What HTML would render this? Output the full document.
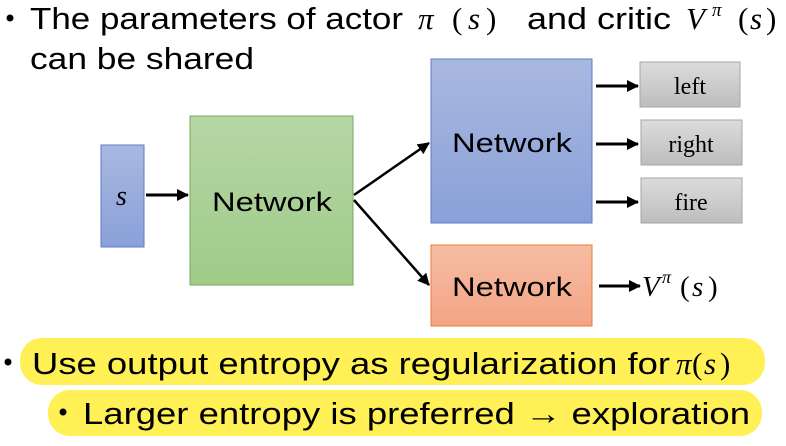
<!DOCTYPE html>
<html><head><meta charset="utf-8"><style>
html,body{margin:0;padding:0;background:#fff;width:786px;height:446px;overflow:hidden}
svg{display:block}
.t{font-family:"Liberation Sans",sans-serif;fill:#000}
.m{font-family:"Liberation Serif",serif;font-style:italic;fill:#000}
.r{font-family:"Liberation Serif",serif;fill:#000}
</style></head><body>
<svg width="786" height="446" viewBox="0 0 786 446">
<defs>
<linearGradient id="gb" x1="0" y1="0" x2="0" y2="1"><stop offset="0" stop-color="#a9b8e0"/><stop offset="1" stop-color="#8aa0d8"/></linearGradient>
<linearGradient id="gg" x1="0" y1="0" x2="0" y2="1"><stop offset="0" stop-color="#b6d6a6"/><stop offset="1" stop-color="#9fcb88"/></linearGradient>
<linearGradient id="go" x1="0" y1="0" x2="0" y2="1"><stop offset="0" stop-color="#f6bda3"/><stop offset="1" stop-color="#f4a486"/></linearGradient>
<linearGradient id="gr" x1="0" y1="0" x2="0" y2="1"><stop offset="0" stop-color="#dcdcdc"/><stop offset="1" stop-color="#bdbdbd"/></linearGradient>
<marker id="ah2" markerWidth="12" markerHeight="12" refX="11" refY="6" orient="auto" markerUnits="userSpaceOnUse"><path d="M0,0 L12,6 L0,12 z" fill="#000"/></marker>
</defs>
<g>
<circle cx="10" cy="18" r="3.5" fill="#000"/>
<text class="t" x="30" y="29" font-size="31" textLength="373" lengthAdjust="spacingAndGlyphs">The parameters of actor</text>
<text class="m" x="418" y="29" font-size="31">π</text><text class="r" x="452" y="29" font-size="31">(</text><text class="m" x="468" y="29" font-size="31">s</text><text class="r" x="486" y="29" font-size="31">)</text>
<text class="t" x="527" y="29" font-size="31" textLength="144" lengthAdjust="spacingAndGlyphs">and critic</text>
<text class="m" x="686" y="29" font-size="31">V</text><text class="m" x="712" y="16" font-size="19">π</text><text class="r" x="738" y="29" font-size="31">(</text><text class="m" x="750" y="29" font-size="31">s</text><text class="r" x="766" y="29" font-size="31">)</text>
<text class="t" x="30" y="69" font-size="31" textLength="224" lengthAdjust="spacingAndGlyphs">can be shared</text>
</g>
<rect x="101" y="145" width="43" height="102" fill="url(#gb)" stroke="#5b7bc8"/>
<text class="m" x="116" y="205" font-size="28">s</text>
<rect x="190" y="116" width="163" height="169" fill="url(#gg)" stroke="#77a860"/>
<text class="t" x="212" y="211" font-size="27" textLength="120" lengthAdjust="spacingAndGlyphs">Network</text>
<rect x="431" y="59" width="161" height="164" fill="url(#gb)" stroke="#5b7bc8"/>
<text class="t" x="452" y="152" font-size="27" textLength="120" lengthAdjust="spacingAndGlyphs">Network</text>
<rect x="431" y="245" width="161" height="81" fill="url(#go)" stroke="#ed7d31"/>
<text class="t" x="452" y="296" font-size="27" textLength="120" lengthAdjust="spacingAndGlyphs">Network</text>
<g>
<rect x="640" y="62" width="100" height="45" fill="url(#gr)" stroke="#a6a6a6"/>
<text class="r" x="690" y="94" font-size="24" text-anchor="middle">left</text>
<rect x="641" y="120" width="101" height="45" fill="url(#gr)" stroke="#a6a6a6"/>
<text class="r" x="691" y="152" font-size="24" text-anchor="middle">right</text>
<rect x="641" y="178" width="101" height="45" fill="url(#gr)" stroke="#a6a6a6"/>
<text class="r" x="691" y="210" font-size="24" text-anchor="middle">fire</text>
</g>
<g stroke="#000" stroke-width="3">
<line x1="146" y1="195" x2="188" y2="195" marker-end="url(#ah2)"/>
<line x1="354" y1="195" x2="429" y2="143" stroke-width="2.5" marker-end="url(#ah2)"/>
<line x1="354" y1="200" x2="429" y2="285" stroke-width="2.5" marker-end="url(#ah2)"/>
<line x1="596" y1="86" x2="638" y2="86" marker-end="url(#ah2)"/>
<line x1="596" y1="144" x2="638" y2="144" marker-end="url(#ah2)"/>
<line x1="596" y1="202" x2="638" y2="202" marker-end="url(#ah2)"/>
<line x1="599" y1="286" x2="640" y2="286" marker-end="url(#ah2)"/>
</g>
<g>
<text class="m" x="642" y="296" font-size="29">V</text><text class="m" x="662" y="283" font-size="18">π</text><text class="r" x="680" y="296" font-size="29">(</text><text class="m" x="692" y="296" font-size="29">s</text><text class="r" x="708" y="296" font-size="29">)</text>
</g>
<g>
<rect x="20" y="338" width="745" height="47" rx="22" fill="#fff056"/>
<circle cx="8" cy="362" r="3.5" fill="#000"/>
<text class="t" x="32" y="374" font-size="31" textLength="638" lengthAdjust="spacingAndGlyphs">Use output entropy as regularization for</text>
<text class="m" x="676" y="374" font-size="31">π</text><text class="r" x="692" y="374" font-size="31">(</text><text class="m" x="704" y="374" font-size="31">s</text><text class="r" x="720" y="374" font-size="31">)</text>
</g>
<g>
<rect x="48" y="390" width="714" height="46" rx="22" fill="#fff056"/>
<circle cx="63" cy="412" r="3.5" fill="#000"/>
<text class="t" x="83" y="424" font-size="31" textLength="667" lengthAdjust="spacingAndGlyphs">Larger entropy is preferred → exploration</text>
</g>
</svg>
</body></html>
